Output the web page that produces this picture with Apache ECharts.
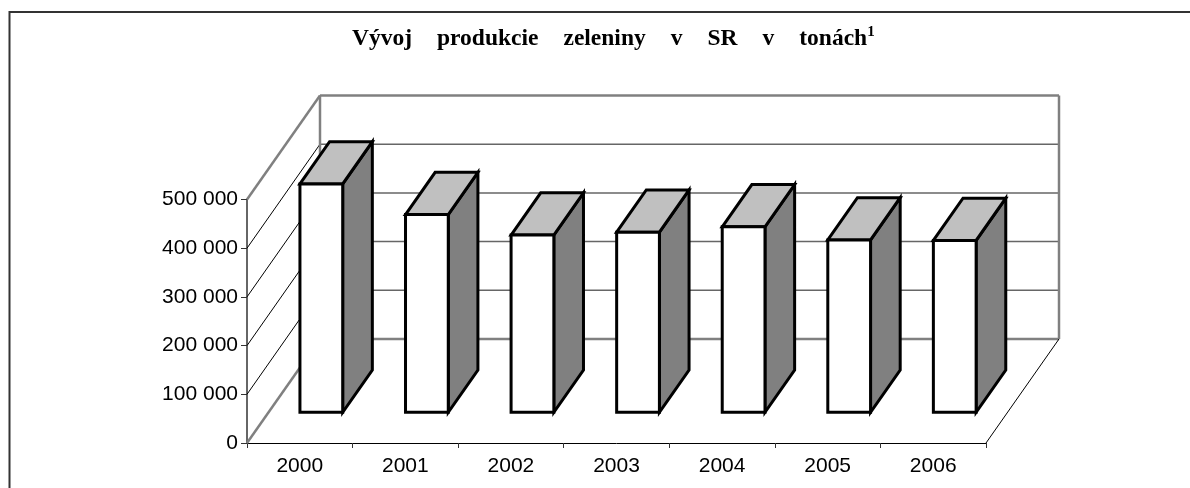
<!DOCTYPE html>
<html><head><meta charset="utf-8">
<style>html,body{margin:0;padding:0;background:#fff}#c{width:1190px;height:488px}</style>
<script src="https://cdn.jsdelivr.net/npm/echarts@6/dist/echarts.min.js"></script>
</head><body><div id="c"></div>
<script>
const categories = ['2000','2001','2002','2003','2004','2005','2006'];
const production = [469000, 406000, 364000, 370000, 381000, 354000, 353000];
const yTicks = [0, 100000, 200000, 300000, 400000, 500000];
const titleWords = ['Vývoj','produkcie','zeleniny','v','SR','v','tonách'];
const footnote = '1';

// oblique projection of the depth axis
const DEPTH_X = 73, DEPTH_Y = -104;
const BAR_FRONT = 0.295, BAR_DEPTH = 0.406, BAR_WIDTH = 0.405;
const WALL = '#808080', GRID = '#666666', EDGE = '#000000';

const chart = echarts.init(document.getElementById('c'), null, {renderer:'canvas'});

function line(x1,y1,x2,y2,stroke,lw){
  return {type:'line', shape:{x1,y1,x2,y2}, style:{stroke,lineWidth:lw}, silent:true};
}
function renderWalls(params, api){
  const v = yTicks[params.dataIndex];
  const L = api.coord([0,v]);
  const size = api.size([1,0])[0];
  const xl = L[0] - size/2;
  const xr = xl + size*categories.length;
  const y = L[1];
  const top = v === yTicks[yTicks.length-1], bottom = v === 0;
  const kids = [];
  const c = (top||bottom) ? WALL : GRID;
  const lw = (top||bottom) ? 2.5 : 1.5;
  kids.push(line(xl+DEPTH_X,y+DEPTH_Y,xr+DEPTH_X,y+DEPTH_Y,c,lw));
  if (bottom) kids.push(line(xr,y,xr+DEPTH_X,y+DEPTH_Y,EDGE,1));
  kids.push(line(xl,y,xl+DEPTH_X,y+DEPTH_Y,(top||bottom)?WALL:EDGE,(top||bottom)?2.5:1));
  if (top) {
    const y0 = api.coord([0,0])[1];
    kids.push(line(xl+DEPTH_X,y+DEPTH_Y,xl+DEPTH_X,y0+DEPTH_Y,WALL,2.5));
    kids.push(line(xr+DEPTH_X,y+DEPTH_Y,xr+DEPTH_X,y0+DEPTH_Y,WALL,2.5));
  }
  return {type:'group', children:kids};
}
function renderBar(params, api){
  const i = api.value(0), val = api.value(1);
  const base = api.coord([i,0]), tp = api.coord([i,val]);
  const w = api.size([1,0])[0]*BAR_WIDTH;
  const ox = DEPTH_X*BAR_FRONT, oy = DEPTH_Y*BAR_FRONT;
  const dx = DEPTH_X*BAR_DEPTH, dy = DEPTH_Y*BAR_DEPTH;
  const x0 = base[0]-w/2+ox, x1 = x0+w;
  const yb = base[1]+oy, yt = tp[1]+oy;
  const st = {stroke:'#000', lineWidth:3, lineJoin:'miter'};
  return {type:'group', children:[
    {type:'polygon', shape:{points:[[x1,yt],[x1+dx,yt+dy],[x1+dx,yb+dy],[x1,yb]]}, style:{fill:'#808080',...st}},
    {type:'polygon', shape:{points:[[x0,yt],[x0+dx,yt+dy],[x1+dx,yt+dy],[x1,yt]]}, style:{fill:'#C0C0C0',...st}},
    {type:'rect', shape:{x:x0,y:yt,width:w,height:yb-yt}, style:{fill:'#fff',...st}}
  ]};
}
chart.setOption({
  animation:false,
  backgroundColor:'#fff',
  title:{
    text:titleWords.map(w=>'{t|'+w+'}').join('{g| }')+'{s|'+footnote+'}',
    left:347, top:20, textAlign:'left',
    textStyle:{rich:{
      t:{fontFamily:'Liberation Serif',fontWeight:'bold',fontSize:23.5,color:'#000',lineHeight:28},
      g:{fontFamily:'Liberation Serif',fontSize:23.5,width:25,lineHeight:28},
      s:{fontFamily:'Liberation Serif',fontWeight:'bold',fontSize:15,color:'#000',verticalAlign:'top',lineHeight:15}
    }}
  },
  graphic:[{type:'rect',silent:true,z:-1,shape:{x:9.5,y:12,width:1300,height:600},style:{fill:'none',stroke:'#333',lineWidth:2}}],
  grid:{left:247,right:204,top:199.5,bottom:45,containLabel:false},
  xAxis:{type:'category',data:categories,boundaryGap:true,
    axisLine:{lineStyle:{color:'#000',width:1}},
    axisTick:{show:true,length:5,lineStyle:{color:'#333'},alignWithLabel:false},
    axisLabel:{fontFamily:'Liberation Sans',fontSize:21,color:'#000',margin:13}},
  yAxis:{type:'value',min:0,max:500000,interval:100000,
    axisLine:{show:true,lineStyle:{color:'#666',width:2}},
    axisTick:{show:true,length:6,lineStyle:{color:'#333'}},
    splitLine:{show:false},
    axisLabel:{fontFamily:'Liberation Sans',fontSize:21,color:'#000',margin:9,
      formatter:v=>String(v).replace(/\B(?=(\d{3})+$)/g,' ')}},
  series:[
    {type:'custom',renderItem:renderWalls,data:yTicks.map((v,i)=>[i,v]),encode:{x:0,y:1},clip:false,z:1,silent:true},
    {type:'custom',renderItem:renderBar,data:production.map((v,i)=>[i,v]),encode:{x:0,y:1},clip:false,z:2,silent:true}
  ]
});
</script></body></html>
